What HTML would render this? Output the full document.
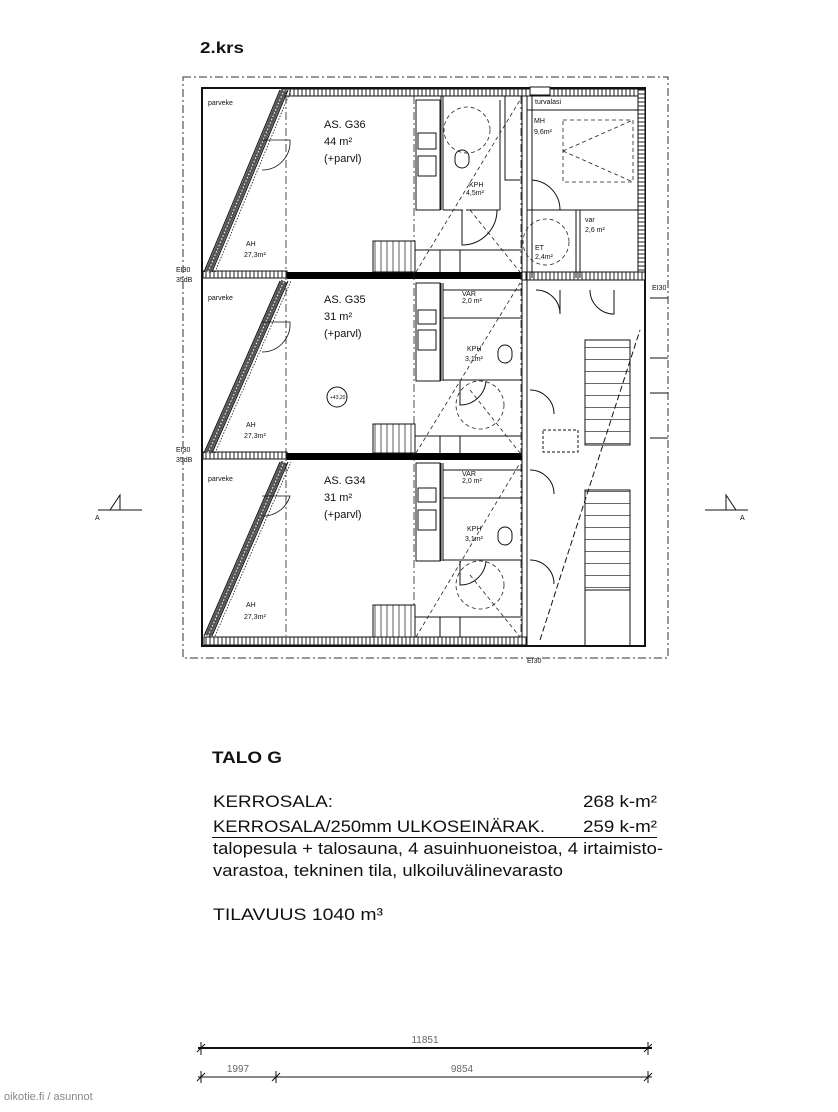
<!DOCTYPE html>
<html><head><meta charset="utf-8"><style>
html,body{margin:0;padding:0;background:#fff;}
svg{display:block}
text{font-family:"Liberation Sans",sans-serif;fill:#111}
</style></head><body>
<svg width="838" height="1112" viewBox="0 0 838 1112" xmlns="http://www.w3.org/2000/svg">
<defs>
<pattern id="hat" width="4" height="4" patternUnits="userSpaceOnUse"><rect width="4" height="4" fill="#fff"/><path d="M2 0V4" stroke="#222" stroke-width="1"/></pattern>
<pattern id="hatv" width="4" height="4" patternUnits="userSpaceOnUse"><rect width="4" height="4" fill="#fff"/><path d="M0 2H4" stroke="#222" stroke-width="1"/></pattern>
<pattern id="st" width="6" height="6" patternUnits="userSpaceOnUse"><rect width="6" height="6" fill="#fff"/><path d="M3 0V6" stroke="#333" stroke-width="0.8"/></pattern>
<pattern id="sth" width="12" height="12" patternUnits="userSpaceOnUse"><rect width="12" height="12" fill="#fff"/><path d="M0 11.5H12" stroke="#444" stroke-width="0.8"/></pattern>
</defs>
<text x="200" y="53" font-size="16" font-weight="bold" textLength="44" lengthAdjust="spacingAndGlyphs">2.krs</text>

<rect x="183" y="77" width="485" height="581" fill="none" stroke="#333" stroke-width="1" stroke-dasharray="8,3,2,3"/>

<rect x="202" y="88" width="443" height="558" stroke-width="2" fill="none" stroke="#111"/>
<rect x="283" y="89" width="362" height="7" fill="url(#hat)" stroke="#111" stroke-width="1"/>
<rect x="638" y="89" width="7" height="190" fill="url(#hatv)" stroke="#111" stroke-width="1"/>
<rect x="204" y="637" width="322" height="8" fill="url(#hat)" stroke="#111" stroke-width="1"/>
<rect x="530" y="87" width="20" height="8" fill="#fff" stroke="#111"/>

<rect x="203" y="271" width="84" height="7" fill="url(#hat)" stroke="#111"/>
<rect x="203" y="452" width="84" height="7" fill="url(#hat)" stroke="#111"/>
<rect x="287" y="272" width="235" height="7" fill="#000"/>
<rect x="287" y="453" width="235" height="7" fill="#000"/>
<rect x="522" y="272" width="123" height="8" fill="url(#hat)" stroke="#111"/>

<g stroke="#555" stroke-width="6">
<path d="M208 272L284 90"/><path d="M208 453L284 281"/><path d="M208 636L284 462"/>
</g>
<g stroke="#111" stroke-width="1">
<path d="M204 272L280 90M212 272L288 90" />
<path d="M204 453L280 281M212 453L288 281" />
<path d="M204 636L280 462M212 636L288 462" />
</g>
<g stroke="#fff" stroke-width="1" stroke-dasharray="1.5,2">
<path d="M208 272L284 90"/><path d="M208 453L284 281"/><path d="M208 636L284 462"/>
</g>
<g stroke="#111" stroke-width="0.8" stroke-dasharray="1.5,1.5">
<path d="M215 272L291 90"/>
<path d="M215 453L291 281"/>
<path d="M215 636L291 462"/>
</g>
<g fill="none" stroke="#111" stroke-width="0.8">
<path d="M262 140L290 140A28 28 0 0 1 262 170"/>
<path d="M262 322L290 322A28 28 0 0 1 262 352"/>
<path d="M262 496L290 496A28 28 0 0 1 262 516"/>
</g>

<g stroke="#222" stroke-width="0.8" stroke-dasharray="8,3,2,3">
<path d="M286 96V636"/>
<path d="M414 96V636"/>
<path d="M521 96V636"/>
</g>

<g fill="none" stroke="#111" stroke-width="1">
<rect x="416" y="100" width="24" height="110"/>
<rect x="418" y="133" width="18" height="16"/>
<rect x="418" y="156" width="18" height="20"/>
<rect x="416" y="283" width="24" height="98"/>
<rect x="418" y="310" width="18" height="14"/>
<rect x="418" y="330" width="18" height="20"/>
<rect x="416" y="463" width="24" height="98"/>
<rect x="418" y="488" width="18" height="14"/>
<rect x="418" y="510" width="18" height="20"/>
<path d="M441 96V210M443 96V210M441 283V381M443 283V381M441 463V561M443 463V561"/>
<path d="M443 210H463M466 210H500M500 100V210M505 96V180H520"/>
<rect x="443" y="318" width="79" height="62"/>
<rect x="443" y="498" width="79" height="62"/>
<path d="M443 290H522M443 470H522"/>
<rect x="455" y="150" width="14" height="18" rx="7"/>
<rect x="498" y="345" width="14" height="18" rx="7"/>
<rect x="498" y="527" width="14" height="18" rx="7"/>
<path d="M462 210V245A35 35 0 0 0 497 210"/>
<path d="M460 381V405A26 26 0 0 0 486 381"/>
<path d="M460 561V585A26 26 0 0 0 486 561"/>
<path d="M532 180A30 30 0 0 1 560 210H532Z"/>
<rect x="373" y="241" width="42" height="31" fill="url(#st)"/>
<rect x="373" y="424" width="42" height="29" fill="url(#st)"/>
<rect x="373" y="605" width="42" height="32" fill="url(#st)"/>
<path d="M415 250H521M415 436H521M415 617H521M440 250V272M460 250V272M440 436V453M460 436V453M440 617V637M460 617V637"/>
</g>
<g fill="none" stroke="#222" stroke-width="0.8" stroke-dasharray="4,3">
<circle cx="467" cy="130" r="23"/>
<circle cx="546" cy="242" r="23"/>
<circle cx="480" cy="405" r="24"/>
<circle cx="480" cy="585" r="24"/>
<path d="M416 272L520 100M470 210L520 272M416 453L520 283M470 390L520 453M416 637L520 463M470 575L520 637"/>
<rect x="563" y="120" width="70" height="62"/>
<path d="M563 151L633 120M563 151L633 182"/>
</g>
<g fill="none" stroke="#111" stroke-width="1">
<path d="M522 96V646M527 96V646M532 96V278"/>
<path d="M527 210H640M576 210V278M580 210V278"/>
<path d="M527 96V110H640"/>
<rect x="585" y="340" width="45" height="105" fill="url(#sth)"/>
<rect x="585" y="490" width="45" height="100" fill="url(#sth)"/>
<path d="M585 590V646M630 590V646M527 646H640"/>
<path d="M536 290A24 24 0 0 1 560 314V290M590 290A24 24 0 0 0 614 314V290"/>
<path d="M530 390A24 24 0 0 1 554 414M530 560A24 24 0 0 1 554 584M530 470A24 24 0 0 1 554 494"/>
<rect x="543" y="430" width="35" height="22" stroke-dasharray="3,2"/>
<path d="M540 640L640 330" stroke-dasharray="6,3"/>
</g>
<g fill="none" stroke="#111" stroke-width="1">
<path d="M98 510H142M110 510L120 495V510Z"/>
<path d="M705 510H748M736 510L726 495V510Z"/>
<path d="M650 298H668M650 358H668M650 393H668M650 438H668"/>
</g>
<text x="95" y="520" font-size="7">A</text>
<text x="740" y="520" font-size="7">A</text>

<g font-size="11">
<text x="324" y="128">AS. G36</text><text x="324" y="145">44 m²</text><text x="324" y="162">(+parvl)</text>
<text x="324" y="303">AS. G35</text><text x="324" y="320">31 m²</text><text x="324" y="337">(+parvl)</text>
<text x="324" y="484">AS. G34</text><text x="324" y="501">31 m²</text><text x="324" y="518">(+parvl)</text>
</g>
<g font-size="7">
<text x="208" y="105">parveke</text><text x="208" y="300">parveke</text><text x="208" y="481">parveke</text>
<text x="246" y="246">AH</text><text x="244" y="257">27,3m²</text>
<text x="246" y="427">AH</text><text x="244" y="438">27,3m²</text>
<text x="246" y="607">AH</text><text x="244" y="619">27,3m²</text>
<text x="534" y="123">MH</text><text x="534" y="134">9,6m²</text>
<text x="585" y="222">var</text><text x="585" y="232">2,6 m²</text>
<text x="535" y="250">ET</text><text x="535" y="259">2,4m²</text>
<text x="462" y="296">VAR</text><text x="462" y="303">2,0 m²</text>
<text x="462" y="476">VAR</text><text x="462" y="483">2,0 m²</text>
<text x="469" y="187">KPH</text><text x="466" y="195">4,5m²</text>
<text x="467" y="351">KPH</text><text x="465" y="361">3,1m²</text>
<text x="467" y="531">KPH</text><text x="465" y="541">3,1m²</text>
<text x="535" y="104">turvalasi</text>
<text x="176" y="272">EI30</text><text x="176" y="282">35dB</text>
<text x="176" y="452">EI30</text><text x="176" y="462">35dB</text>
<text x="652" y="290">EI30</text>
<text x="527" y="663">EI30</text>
</g>
<circle cx="337" cy="397" r="10" fill="none" stroke="#111"/>
<text x="330" y="399" font-size="5">+43,20</text>

<text x="212" y="763" font-size="17" font-weight="bold" textLength="70" lengthAdjust="spacingAndGlyphs">TALO G</text>
<g font-size="17">
<text x="213" y="807" textLength="120" lengthAdjust="spacingAndGlyphs">KERROSALA:</text>
<text x="583" y="807" textLength="74" lengthAdjust="spacingAndGlyphs">268 k-m²</text>
<text x="213" y="832" textLength="332" lengthAdjust="spacingAndGlyphs">KERROSALA/250mm ULKOSEINÄRAK.</text>
<text x="583" y="832" textLength="74" lengthAdjust="spacingAndGlyphs">259 k-m²</text>
<text x="213" y="854" textLength="450" lengthAdjust="spacingAndGlyphs">talopesula + talosauna, 4 asuinhuoneistoa, 4 irtaimisto-</text>
<text x="213" y="876" textLength="350" lengthAdjust="spacingAndGlyphs">varastoa, tekninen tila, ulkoiluvälinevarasto</text>
<text x="213" y="920" textLength="170" lengthAdjust="spacingAndGlyphs">TILAVUUS 1040 m³</text>
</g>
<path d="M212 837.5H657" stroke="#111" stroke-width="1"/>

<g stroke="#111" fill="none">
<path d="M198 1048H652" stroke-width="2"/>
<path d="M198 1077H652" stroke-width="1"/>
<path d="M201 1042L201 1055M648 1042L648 1055M201 1071V1083M276 1071V1083M648 1071V1083"/>
<path d="M197 1052L205 1044M644 1052L652 1044M197 1081L205 1073M272 1081L280 1073M644 1081L652 1073"/>
</g>
<g font-size="10">
<text x="425" y="1043" text-anchor="middle" style="fill:#666">11851</text>
<text x="238" y="1072" text-anchor="middle" style="fill:#666">1997</text>
<text x="462" y="1072" text-anchor="middle" style="fill:#666">9854</text>
</g>
<text x="4" y="1100" font-size="11" style="fill:#888">oikotie.fi / asunnot</text>
</svg>
</body></html>
